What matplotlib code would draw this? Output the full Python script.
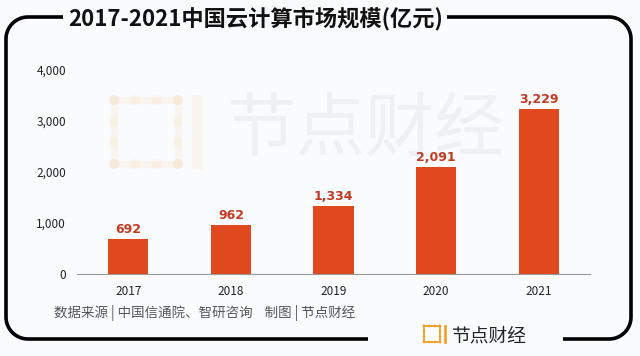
import numpy as np
import matplotlib
matplotlib.use("Agg")
import matplotlib.pyplot as plt
from matplotlib.patches import Circle

plt.rcParams['font.family'] = ['Noto Sans CJK SC', 'DejaVu Sans']

years = ["2017", "2018", "2019", "2020", "2021"]
market_size = [692, 962, 1334, 2091, 3229]
yticks = [0, 1000, 2000, 3000, 4000]

title = "2017-2021中国云计算市场规模(亿元)"
source = "数据来源 | 中国信通院、智研咨询    制图 | 节点财经"
brand = "节点财经"

bg = "#FAFBFD"
bar_color = "#E0481E"
label_color = "#C23A22"

fig = plt.figure(figsize=(6.4, 3.56), dpi=100, facecolor=bg)

# overlay in pixel coords for frame, watermark and logo
ov = fig.add_axes([0, 0, 1, 1], zorder=0)
ov.set_xlim(0, 640)
ov.set_ylim(356, 0)
ov.axis("off")
ov.set_facecolor(bg)


def arc(cx, cy, r, a0, a1):
    t = np.radians(np.linspace(a0, a1, 30))
    return cx + r * np.cos(t), cy - r * np.sin(t)


lw = 2.6
r = 22
L, R, T, B = 6, 631, 17, 339
# top-left piece
x1, y1 = arc(L + r, T + r, r, 180, 90)
ov.plot(np.r_[L, x1, 63], np.r_[B - r, y1, T], color="black", lw=lw, solid_capstyle="butt")
# left-bottom arc + bottom line
x2, y2 = arc(L + r, B - r, r, 180, 270)
ov.plot(np.r_[x2, 368], np.r_[y2, B], color="black", lw=lw, solid_capstyle="butt")
# top-right piece
x3, y3 = arc(R - r, T + r, r, 90, 0)
ov.plot(np.r_[447, x3, R], np.r_[T, y3, B - r], color="black", lw=lw, solid_capstyle="butt")
# bottom-right piece
x4, y4 = arc(R - r, B - r, r, 0, -90)
ov.plot(np.r_[x4, 563], np.r_[y4, B], color="black", lw=lw, solid_capstyle="butt")

ov.text(256, 19, title, ha="center", va="center", fontsize=16, fontweight=900, color="#111111")
ov.text(54, 313, source, ha="left", va="center", fontsize=9.7, color="#555555")

# watermark
ov.text(365, 130, brand, ha="center", va="center", fontsize=50, color="#EEF0F4", zorder=0)


def logo(ox, oy, size, color, alpha=1.0):
    pts = np.linspace(0, size, 4)
    for p in pts:
        for q in (0, size):
            ov.add_patch(Circle((ox + p, oy + q), size * 0.08, color=color, alpha=alpha, lw=0))
            ov.add_patch(Circle((ox + q, oy + p), size * 0.08, color=color, alpha=alpha, lw=0))
    ov.plot([ox, ox + size, ox + size, ox, ox], [oy, oy, oy + size, oy + size, oy],
            color=color, lw=size * 0.08, alpha=alpha)
    ov.plot([ox + size * 1.3] * 2, [oy, oy + size], color=color, lw=size * 0.12, alpha=alpha)


logo(114, 100, 64, "#F6C58A", alpha=0.12)
logo(424, 326, 16, "#F0A020")
ov.text(452, 336, brand, ha="left", va="center", fontsize=13.5, color="#222222")

# main bar chart
ax = fig.add_axes([77 / 640, 82 / 356, 513 / 640, 204 / 356], zorder=1)
ax.patch.set_alpha(0)
x = np.arange(len(years))
bars = ax.bar(x, market_size, width=0.39, color=bar_color, zorder=2)
for b, v in zip(bars, market_size):
    ax.text(b.get_x() + b.get_width() / 2, v + 60, f"{v:,}", ha="center", va="bottom",
            fontsize=9, fontweight="bold", color=label_color, family="DejaVu Sans")
ax.set_xlim(-0.5, len(years) - 0.5)
ax.set_ylim(0, 4000)
ax.set_xticks(x)
ax.set_xticklabels(years)
ax.set_yticks(yticks)
ax.set_yticklabels([f"{t:,}" for t in yticks])
for s in ("top", "right", "left"):
    ax.spines[s].set_visible(False)
ax.spines["bottom"].set_color("#999999")
ax.spines["bottom"].set_linewidth(0.8)
ax.tick_params(axis="both", length=0, labelsize=8.5, labelcolor="#222222")
ax.tick_params(axis="y", pad=8)
ax.tick_params(axis="x", pad=8)

fig.savefig("out.png", dpi=100, facecolor=bg)
